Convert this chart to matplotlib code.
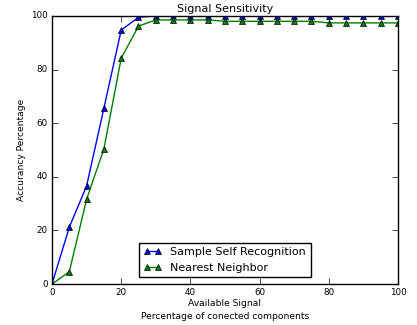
import numpy as np
import matplotlib
matplotlib.use('Agg')
import matplotlib.pyplot as plt

plt.style.use('classic')

signal = [0, 5, 10, 15, 20, 25, 30, 35, 40, 45, 50, 55, 60, 65, 70, 75, 80, 85, 90, 95, 100]
self_recognition = [0, 21.2, 36.6, 65.6, 94.7, 99.5, 100, 100, 100, 100, 100, 100,
                    100, 100, 100, 100, 100, 100, 100, 100, 100]
nearest_neighbor = [0, 4.6, 31.6, 50.4, 84.2, 96.2, 98.5, 98.5, 98.5, 98.5, 98.0, 98.0,
                    98.0, 98.0, 98.0, 98.0, 97.4, 97.4, 97.4, 97.4, 97.4]

fig = plt.figure(figsize=(4.17, 3.25), dpi=100)
ax = fig.add_axes([0.1247, 0.126, 0.8297, 0.825])

ax.plot(signal, self_recognition, 'b-^', markersize=4.5, label='Sample Self Recognition')
ax.plot(signal, nearest_neighbor, 'g-^', markersize=4.5, label='Nearest Neighbor')

ax.set_xlim(0, 100)
ax.set_ylim(0, 100)
ax.set_yticks([0, 20, 40, 60, 80, 100])
ax.tick_params(labelsize=6.3, pad=3)
ax.set_title('Signal Sensitivity', fontsize=8, pad=2.5)
ax.set_xlabel('Available Signal\nPercentage of conected components', fontsize=6.6,
              labelpad=1.5, linespacing=1.55)
ax.set_ylabel('Accurancy Percentage', fontsize=6.6, labelpad=4)
ax.legend(loc='lower center', fontsize=8, handlelength=1.6, borderaxespad=0.6)

fig.savefig('out.png', dpi=100)
